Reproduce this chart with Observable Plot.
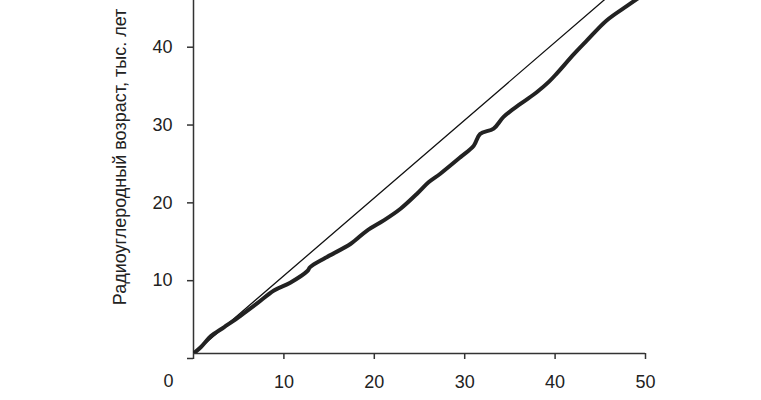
<!DOCTYPE html>
<html>
<head>
<meta charset="utf-8">
<script src="https://cdn.jsdelivr.net/npm/d3@7"></script>
<script src="https://cdn.jsdelivr.net/npm/@observablehq/plot@0.6"></script>
<style>
  html, body { margin: 0; padding: 0; background: #fff; }
  #chart svg { display: block; }
</style>
</head>
<body>
<div id="chart"></div>
<script>
// Calendar age, thousand years (x) vs radiocarbon age, thousand years (y)
const calAge = [0, 0.8, 1.9, 3.4, 5.2, 7.0, 8.9, 10.7, 12.6, 12.9, 14.6, 17.4, 19.2, 21.05, 22.9, 24.7, 26.0, 27.3, 29.5, 31.0, 31.7, 33.2, 34.3, 36.2, 38.0, 39.3, 40.2, 42.1, 43.5, 45.7, 48.0, 50];
const radioAge = [0, 0.8, 2.2, 3.4, 4.85, 6.4, 8.1, 9.1, 10.6, 11.1, 12.3, 14.1, 15.8, 17.1, 18.6, 20.5, 22.0, 23.1, 25.2, 26.7, 28.2, 28.9, 30.4, 32.1, 33.6, 34.9, 36.0, 38.5, 40.2, 42.8, 44.7, 46.3];
// 1:1 reference line
const diagX = [0, 50];
const diagY = [0, 50];
const xTicks = [0, 10, 20, 30, 40, 50];
const yTicks = [0, 10, 20, 30, 40];
const yTitle = "Радиоуглеродный возраст, тыс. лет";
const originLabel = "0";

const curve = calAge.map((x, i) => ({x, y: radioAge[i]}));
const diag = diagX.map((x, i) => ({x, y: diagY[i]}));

const font = "'Liberation Sans', Arial, sans-serif";
const plot = Plot.plot({
  width: 761,
  height: 400,
  marginLeft: 193,
  marginRight: 116,
  marginTop: 0,
  marginBottom: 47,
  style: {fontFamily: font, fontSize: "18px", color: "#222", background: "#fff"},
  x: {domain: [0, 50]},
  y: {domain: [0, 45.36]},
  marks: [
    Plot.axisX({ticks: xTicks, tickSize: 6, tickPadding: 16, tickFormat: d => d === 0 ? "" : String(d), stroke: "#333", strokeWidth: 1.5, label: null, fontSize: 18}),
    Plot.axisY({ticks: yTicks, tickSize: 6, tickPadding: 15, tickFormat: d => d === 0 ? "" : String(d), stroke: "#333", strokeWidth: 1.5, label: null, dy: 5, fontSize: 18}),
    Plot.ruleX([0], {stroke: "#333", strokeWidth: 1.5}),
    Plot.ruleY([0], {stroke: "#333", strokeWidth: 1.5}),
    Plot.line(diag, {x: "x", y: "y", stroke: "#111", strokeWidth: 1.3, clip: true}),
    Plot.line(curve, {x: "x", y: "y", stroke: "#222", strokeWidth: 4, curve: "catmull-rom", clip: true}),
    Plot.text([originLabel], {x: () => 0, y: () => 0, text: d => d, dx: -25, dy: 28, fontSize: 18, fill: "#222"})
  ]
});

document.getElementById("chart").appendChild(plot);
const svg = d3.select(plot);
svg.append("text")
  .attr("transform", "translate(126,157) rotate(-90)")
  .attr("text-anchor", "middle")
  .attr("font-family", font)
  .attr("font-size", 18)
  .attr("fill", "#222")
  .text(yTitle);
</script>
</body>
</html>
